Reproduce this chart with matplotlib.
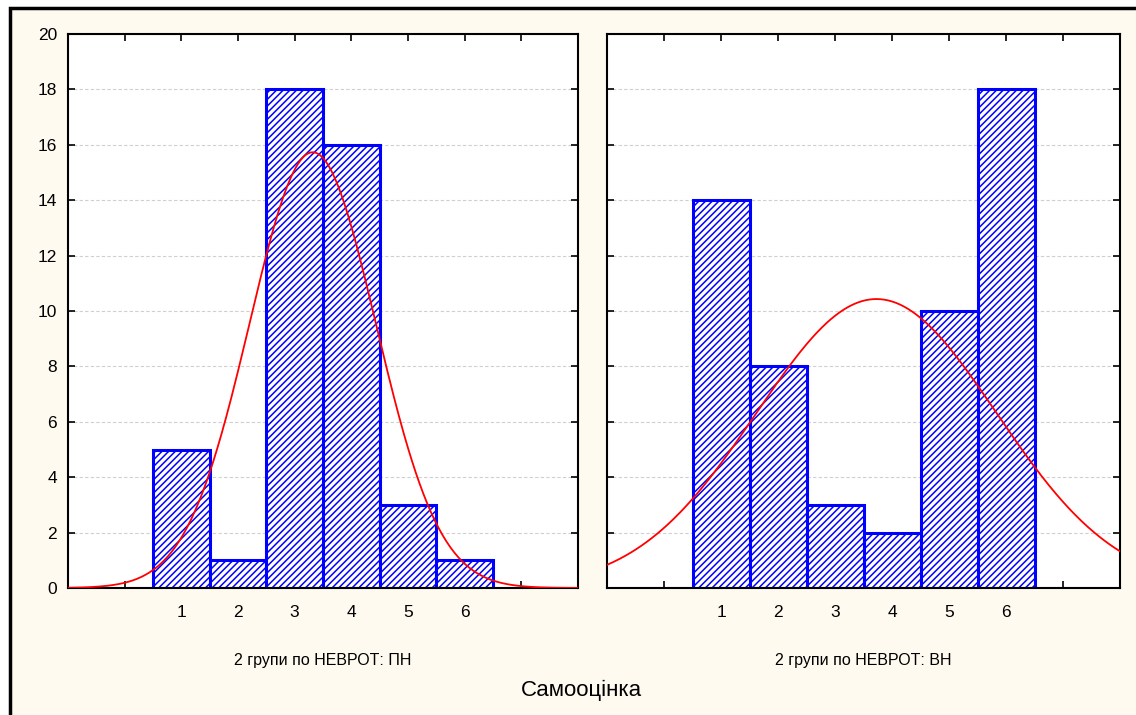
import numpy as np
import matplotlib.pyplot as plt
from matplotlib.patches import Rectangle

plt.rcParams['font.family'] = ['Liberation Sans', 'DejaVu Sans']
plt.rcParams['hatch.color'] = '#5050ff'
plt.rcParams['hatch.linewidth'] = 1.1

# Самооцінка scores and counts for the two groups
scores = [1, 2, 3, 4, 5, 6]
counts_pn = [5, 1, 18, 16, 3, 1]
counts_vn = [14, 8, 3, 2, 10, 18]
group_titles = ['2 групи по НЕВРОТ: ПН', '2 групи по НЕВРОТ: ВН']
y_ticks = list(range(0, 21, 2))

bg = '#fffaf0'
fig = plt.figure(figsize=(11.36, 7.15), dpi=100)
fig.patch.set_facecolor('white')
# cream panel with black frame on the left and top
fig.patches.append(Rectangle((10 / 1136, -0.1), 1.2, 1 - 8 / 715 + 0.1,
                             transform=fig.transFigure, facecolor=bg,
                             edgecolor='black', linewidth=2.5, zorder=-10))

positions = [[68 / 1136, 1 - 588 / 715, 510 / 1136, 554 / 715],
             [607 / 1136, 1 - 588 / 715, 513 / 1136, 554 / 715]]

xs = np.linspace(-1, 8, 400)
for k, (counts, title) in enumerate(zip([counts_pn, counts_vn], group_titles)):
    ax = fig.add_axes(positions[k])
    ax.set_facecolor('white')
    ax.bar(scores, counts, width=1.0, facecolor='white', edgecolor='blue',
           linewidth=2.2, hatch='/////', zorder=2)

    # fitted normal curve scaled to counts
    vals = np.repeat(scores, counts)
    mu = vals.mean()
    sd = vals.std(ddof=1)
    dens = len(vals) / (sd * np.sqrt(2 * np.pi)) * np.exp(-0.5 * ((xs - mu) / sd) ** 2)
    ax.plot(xs, dens, color='red', linewidth=1.3, zorder=3)

    ax.set_xlim(-1, 8)
    ax.set_ylim(0, 20)
    ax.set_xticks(range(0, 8))
    ax.set_xticklabels([''] + [str(s) for s in scores] + [''])
    ax.set_yticks(y_ticks)
    ax.grid(axis='y', color='#cfcfcf', linestyle=(0, (3, 2)), linewidth=0.8, zorder=0)
    ax.tick_params(direction='in', length=5, width=1.2, top=True, right=True,
                   labelsize=12.5, colors='black')
    ax.tick_params(axis='x', pad=12)
    ax.tick_params(axis='y', pad=8)
    if k == 1:
        ax.set_yticklabels([])
    for sp in ax.spines.values():
        sp.set_linewidth(1.5)
    ax.set_xlabel(title, fontsize=11.5, labelpad=24)

fig.text(0.512, 1 - 690 / 715, 'Самооцінка', ha='center', va='center', fontsize=16)

fig.savefig('out.png', dpi=100, facecolor=fig.get_facecolor())
